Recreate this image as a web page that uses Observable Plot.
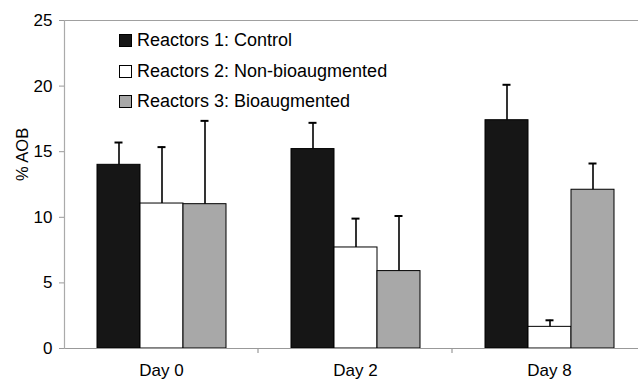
<!DOCTYPE html>
<html>
<head>
<meta charset="utf-8">
<script src="https://cdn.jsdelivr.net/npm/d3@7"></script>
<script src="https://cdn.jsdelivr.net/npm/@observablehq/plot@0.6"></script>
<style>
  html, body { margin: 0; padding: 0; background: #fff; overflow: hidden; }
  #wrap { position: relative; width: 638px; height: 381px; font-family: "Liberation Sans", Arial, sans-serif; }
  #legend { position: absolute; left: 119px; top: 25px; font-size: 18px; color: #000; }
  #legend .row { display: flex; align-items: center; height: 30.8px; }
  #legend .sw { width: 11px; height: 11px; border: 1px solid #000; margin-right: 5px; box-sizing: content-box; }
</style>
</head>
<body>
<div id="wrap"><div id="legend"></div></div>
<script>
const days = ["Day 0", "Day 2", "Day 8"];
const series = ["Reactors 1: Control", "Reactors 2: Non-bioaugmented", "Reactors 3: Bioaugmented"];
const control = [14.0, 15.2, 17.4];
const controlErr = [1.7, 2.0, 2.7];
const nonBio = [11.05, 7.7, 1.65];
const nonBioErr = [4.3, 2.2, 0.5];
const bio = [11.0, 5.9, 12.1];
const bioErr = [6.35, 4.2, 2.0];
const yTicks = [0, 5, 10, 15, 20, 25];
const colors = ["#161616", "#ffffff", "#a8a8a8"];
const yLabel = "% AOB";

const values = [control, nonBio, bio];
const errors = [controlErr, nonBioErr, bioErr];
const rows = days.flatMap((day, i) => series.map((s, j) => ({day, series: s, value: values[j][i], top: values[j][i] + errors[j][i]})));

const font = '"Liberation Sans", Arial, sans-serif';
const chart = Plot.plot({
  width: 638, height: 381,
  marginTop: 20, marginLeft: 62, marginRight: 0, marginBottom: 33,
  style: {fontFamily: font, fontSize: "17px", color: "#000", background: "#fff"},
  fx: {domain: days, range: [62.5, 647], padding: 0, label: null},
  x: {domain: series, paddingInner: 0, paddingOuter: 0.735, axis: null},
  y: {domain: [0, 25], ticks: yTicks, label: null},
  color: {domain: series, range: colors},
  marks: [
    Plot.ruleY([25], {stroke: "#a0a0a0", strokeWidth: 1.2}),
    Plot.barY(rows, {fx: "day", x: "series", y: "value", fill: "series", stroke: "#000", strokeWidth: 1}),
    Plot.ruleX(rows, {fx: "day", x: "series", y1: "value", y2: "top", stroke: "#000", strokeWidth: 1.6}),
    Plot.tickY(rows, {fx: "day", x: "series", y: "top", stroke: "#000", strokeWidth: 2, insetLeft: 17.5, insetRight: 17.5}),
    Plot.ruleY([0], {stroke: "#999", strokeWidth: 1.2}),
    Plot.frame({anchor: "left", fx: () => days[0], stroke: "#aaa", strokeWidth: 1.2}),
    Plot.axisY(yTicks, {tickSize: 5, tickPadding: 7, stroke: "#999", fill: "#000", label: null}),
    Plot.axisFx({anchor: "bottom", tickSize: 0, tickPadding: 15.5, label: null, fontSize: 17}),
    Plot.text([yLabel], {facet: "super", frameAnchor: "left", rotate: -90, dx: -42, dy: -3.5, fontSize: 16.5, fill: "#000"})
  ]
});
document.getElementById("wrap").prepend(chart);

// small category-separator ticks on the category axis, placed from the fx scale
const fx = chart.scale("fx");
const svg = d3.select(chart);
const y0 = chart.scale("y").apply(0);
days.slice(1).forEach(d => {
  const xb = fx.apply(d);
  svg.append("line").attr("x1", xb).attr("x2", xb).attr("y1", y0).attr("y2", y0 + 5)
    .attr("stroke", "#999").attr("stroke-width", 1.2);
});

// legend built from the colour scale
const color = chart.scale("color");
const legend = d3.select("#legend");
color.domain.forEach((s, i) => {
  const row = legend.append("div").attr("class", "row");
  row.append("div").attr("class", "sw").style("background", color.range[i]);
  row.append("span").text(s);
});
</script>
</body>
</html>
